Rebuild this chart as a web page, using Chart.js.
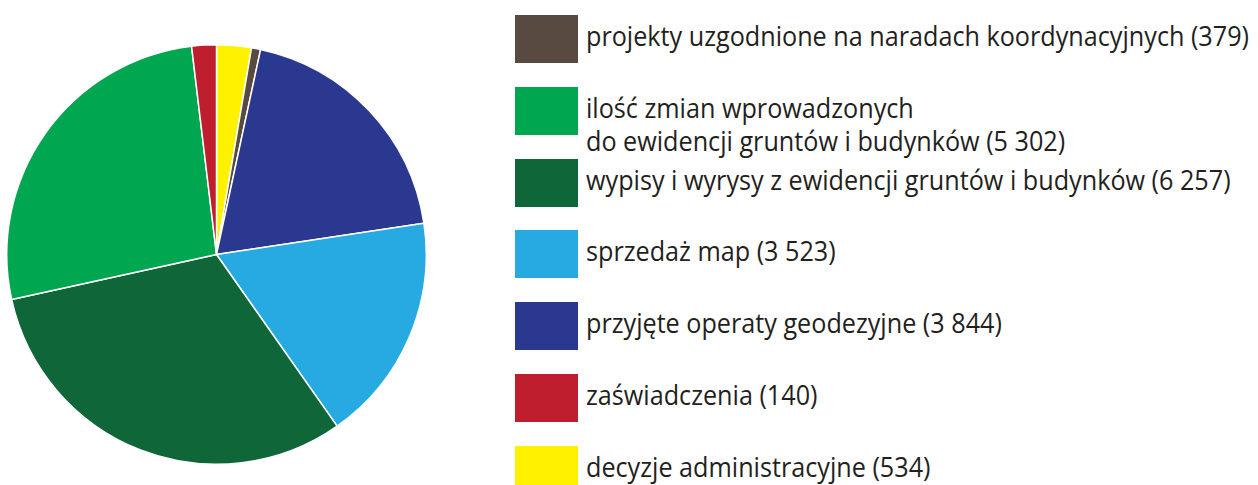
<!DOCTYPE html>
<html>
<head>
<meta charset="utf-8">
<script src="https://cdn.jsdelivr.net/npm/chart.js@4"></script>
<style>
  html, body { margin: 0; padding: 0; background: #fff; }
  body { width: 1258px; height: 485px; position: relative; overflow: hidden; }
  #pieBox { position: absolute; left: 6px; top: 44px; width: 421px; height: 421px; }
  .swatch { position: absolute; left: 515px; width: 63px; height: 48px; }
  .label {
    position: absolute; left: 586px; white-space: nowrap;
    font-family: "Open Sans", sans-serif; font-size: 27px; line-height: 32.6px;
    color: #231f20; transform-origin: 0 0;
  }
</style>
</head>
<body>
<div id="pieBox"><canvas id="chart"></canvas></div>
<div id="legend"></div>
<script>
// legend, in the order it is printed on the right
const legendLines = [
  ["projekty uzgodnione na naradach koordynacyjnych (379)"],
  ["ilość zmian wprowadzonych", "do ewidencji gruntów i budynków (5 302)"],
  ["wypisy i wyrysy z ewidencji gruntów i budynków (6 257)"],
  ["sprzedaż map (3 523)"],
  ["przyjęte operaty geodezyjne (3 844)"],
  ["zaświadczenia (140)"],
  ["decyzje administracyjne (534)"],
];
const legendColors = ["#594a41", "#00a650", "#0f6639", "#27a9e1", "#2b388f", "#be1e2d", "#fff100"];

// slices as drawn, clockwise from 12 o'clock
// (in the picture the red slice is the 379 one and the brown one the 140)
const pieLabels = ["decyzje administracyjne", "projekty uzgodnione", "przyjęte operaty geodezyjne",
  "sprzedaż map", "wypisy i wyrysy", "ilość zmian", "zaświadczenia"];
const pieValues = [534, 140, 3844, 3523, 6257, 5302, 379];
const pieColors = ["#fff100", "#594a41", "#2b388f", "#27a9e1", "#0f6639", "#00a650", "#be1e2d"];

function buildLegend() {
  const box = document.getElementById("legend");
  const labels = [];
  legendLines.forEach((lines, i) => {
    const top = Math.round(15 + i * 71.8);
    const sw = document.createElement("div");
    sw.className = "swatch";
    sw.style.top = top + "px";
    sw.style.background = legendColors[i];
    box.appendChild(sw);
    const lab = document.createElement("div");
    lab.className = "label";
    lab.style.top = (top + 5.2) + "px";
    lab.innerHTML = lines.map((l) => "<span>" + l + "</span>").join("<br>");
    box.appendChild(lab);
    labels.push(lab);
  });
  // squeeze the substitute font to the width of the original lettering
  const first = labels[0].querySelector("span");
  const s = 663 / first.getBoundingClientRect().width;
  labels.forEach((l) => { l.style.transform = "scaleX(" + s + ")"; });
}

function initializeChart() {
  const ctx = document.getElementById("chart");
  new Chart(ctx, {
    type: "pie",
    data: {
      labels: pieLabels,
      datasets: [{
        data: pieValues,
        backgroundColor: pieColors,
        borderColor: "#fff",
        borderWidth: 1.5,
      }],
    },
    options: {
      responsive: true,
      maintainAspectRatio: false,
      animation: false,
      layout: { padding: 0 },
      plugins: {
        legend: { display: false },
        tooltip: { enabled: false },
      },
    },
  });
}

document.fonts.ready.then(buildLegend);
initializeChart();
</script>
</body>
</html>
